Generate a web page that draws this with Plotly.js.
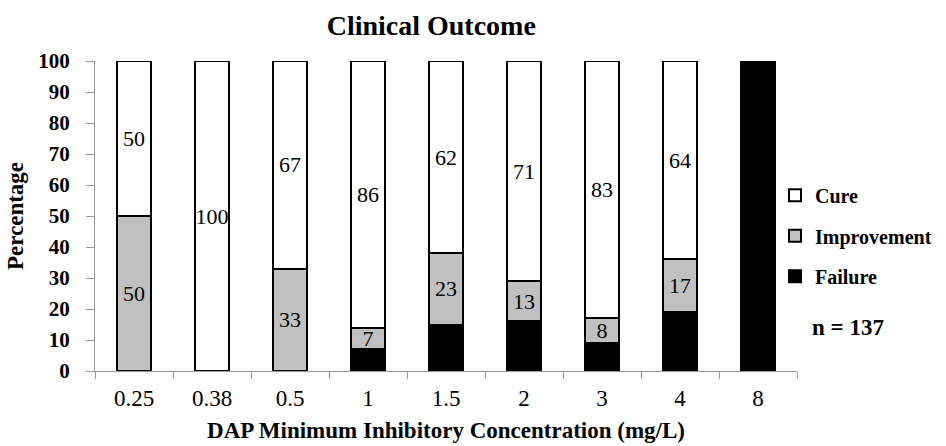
<!DOCTYPE html>
<html>
<head>
<meta charset="utf-8">
<script src="https://cdn.plot.ly/plotly-3.0.1.min.js"></script>
<style>html,body{margin:0;padding:0;background:#fff;}#chart{width:946px;height:446px;}</style>
</head>
<body>
<div id="chart"></div>
<script>
var categories = ['0.25', '0.38', '0.5', '1', '1.5', '2', '3', '4', '8'];
var failure = [0, 0, 0, 7, 15, 16, 9, 19, 100];
var improvement = [50, 0, 33, 7, 23, 13, 8, 17, 0];
var cure = [50, 100, 67, 86, 62, 71, 83, 64, 0];

var serif = 'Liberation Serif';
function labels(arr) { return arr.map(function (v) { return v > 0 ? String(v) : ''; }); }

var common = {
  type: 'bar',
  x: categories,
  textposition: 'inside',
  insidetextanchor: 'middle',
  constraintext: 'none',
  textangle: 0,
  textfont: { family: serif, size: 22, color: '#000' },
  hoverinfo: 'skip'
};

var traces = [
  Object.assign({}, common, {
    name: 'Failure', y: failure, text: failure.map(function () { return ''; }),
    legendgroup: 'f', legendrank: 3,
    marker: { color: '#000000', line: { color: '#000', width: 2 } }
  }),
  Object.assign({}, common, {
    name: 'Improvement', y: improvement, text: labels(improvement),
    legendgroup: 'i', legendrank: 2,
    marker: { color: '#c0c0c0', line: { color: '#000', width: 2 } }
  }),
  Object.assign({}, common, {
    name: 'Cure', y: cure, text: labels(cure),
    legendgroup: 'c', legendrank: 1,
    marker: { color: '#ffffff', line: { color: '#000', width: 2 } }
  })
];

var layout = {
  width: 946, height: 446,
  margin: { l: 95, r: 149, t: 61, b: 75, autoexpand: false },
  paper_bgcolor: '#fff', plot_bgcolor: '#fff',
  barmode: 'stack',
  bargap: 0.56,
  showlegend: true,
  title: {
    text: '<b>Clinical Outcome</b>',
    font: { family: serif, size: 28, color: '#000' },
    x: 0.479, xref: 'paper', xanchor: 'center',
    y: 0.944, yref: 'container', yanchor: 'middle'
  },
  font: { family: serif, color: '#000' },
  xaxis: {
    type: 'category',
    showgrid: false, zeroline: false,
    showline: true, linecolor: '#999', linewidth: 1,
    ticks: 'outside', tickson: 'boundaries', ticklen: 7, tickcolor: '#999',
    ticklabelstandoff: 6,
    tickfont: { family: serif, size: 23, color: '#000' },
    title: { text: '<b>DAP Minimum Inhibitory Concentration (mg/L)</b>', font: { family: serif, size: 23, color: '#000' }, standoff: 12 }
  },
  yaxis: {
    range: [0, 100], dtick: 10,
    showgrid: false, zeroline: false,
    showline: true, linecolor: '#999', linewidth: 1,
    ticks: 'outside', ticklen: 8, tickcolor: '#999',
    ticklabelstandoff: 12,
    tickfont: { family: serif, size: 21, color: '#000', weight: 'bold' },
    title: { text: '<b>Percentage</b>', font: { family: serif, size: 23, color: '#000' }, standoff: 8 }
  },
  legend: {
    x: 0.9687, xanchor: 'left', y: 0.63, yanchor: 'top',
    traceorder: 'grouped',
    tracegroupgap: 11.5,
    font: { family: serif, size: 20, color: '#000', weight: 'bold' },
    itemwidth: 30,
    bgcolor: 'rgba(0,0,0,0)'
  },
  annotations: [{
    text: '<b>n = 137</b>', xref: 'paper', yref: 'paper',
    x: 1.0185, y: 0.139, xanchor: 'left', yanchor: 'middle', showarrow: false,
    font: { family: serif, size: 23, color: '#000' }
  }]
};

Plotly.newPlot('chart', traces, layout, { displayModeBar: false, staticPlot: true });
</script>
</body>
</html>
